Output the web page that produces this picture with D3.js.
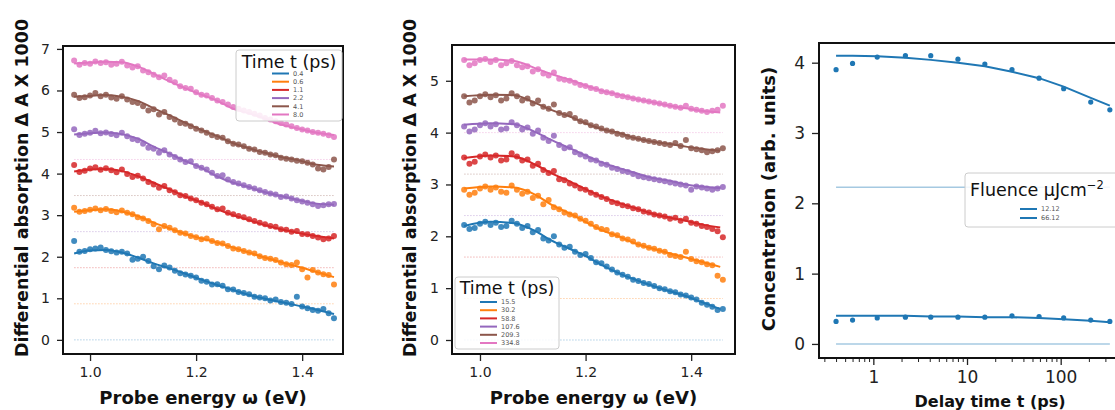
<!DOCTYPE html>
<html>
<head>
<meta charset="utf-8">
<script src="https://cdn.jsdelivr.net/npm/d3@7"></script>
<style>
  body { margin: 0; background: #fff; }
  svg { display: block; font-family: "DejaVu Sans", sans-serif; }
</style>
</head>
<body>
<div id="chart"></div>
<script>
// ---- data ----
const colors = ['#1f77b4', '#ff7f0e', '#d62728', '#9467bd', '#8c564b', '#e377c2'];

const energies = [0.97, 0.98, 0.99, 1.00, 1.01, 1.02, 1.03, 1.04, 1.05, 1.06,
  1.07, 1.08, 1.09, 1.10, 1.11, 1.12, 1.13, 1.14, 1.15, 1.16,
  1.17, 1.18, 1.19, 1.20, 1.21, 1.22, 1.23, 1.24, 1.25, 1.26,
  1.27, 1.28, 1.29, 1.30, 1.31, 1.32, 1.33, 1.34, 1.35, 1.36,
  1.37, 1.38, 1.39, 1.40, 1.41, 1.42, 1.43, 1.44, 1.45, 1.46];

// left panel, early delays
const timesA = ['0.4', '0.6', '1.1', '2.2', '4.1', '8.0'];
const offsetsA = [0, 0.868, 1.736, 2.604, 3.472, 4.34];
const pointsA = [
  [2.38, 2.12, 2.14, 2.18, 2.20, 2.22, 2.16, 2.13, 2.10, 2.12, 2.08, 1.93, 1.95, 2.00, 1.90, 1.77, 1.70, 1.79, 1.74, 1.66, 1.60, 1.57, 1.54, 1.50, 1.42, 1.40, 1.33, 1.34, 1.30, 1.22, 1.21, 1.15, 1.13, 1.10, 1.04, 1.02, 1.00, 0.95, 0.97, 0.91, 0.89, 0.86, 1.04, 0.80, 0.76, 0.72, 0.70, 0.74, 0.64, 0.52],
  [3.18, 3.08, 3.10, 3.13, 3.16, 3.12, 3.15, 3.10, 3.07, 3.11, 3.06, 3.02, 2.95, 2.92, 2.86, 2.78, 2.66, 2.74, 2.70, 2.64, 2.58, 2.56, 2.50, 2.47, 2.42, 2.44, 2.38, 2.33, 2.32, 2.26, 2.20, 2.18, 2.14, 2.10, 2.08, 2.01, 1.97, 1.95, 1.92, 1.86, 1.82, 1.80, 1.86, 1.70, 1.50, 1.68, 1.62, 1.58, 1.56, 1.33],
  [4.21, 4.04, 4.07, 4.12, 4.15, 4.09, 4.13, 4.08, 4.03, 4.10, 3.99, 3.92, 3.95, 3.88, 3.80, 3.74, 3.66, 3.70, 3.60, 3.55, 3.48, 3.46, 3.40, 3.36, 3.30, 3.26, 3.20, 3.14, 3.16, 3.06, 3.02, 2.98, 2.95, 2.90, 2.86, 2.82, 2.78, 2.74, 2.72, 2.66, 2.65, 2.60, 2.62, 2.55, 2.54, 2.50, 2.46, 2.42, 2.44, 2.50],
  [5.07, 4.93, 4.96, 4.98, 5.03, 4.97, 4.99, 4.95, 4.92, 4.98, 4.90, 4.83, 4.80, 4.72, 4.62, 4.60, 4.50, 4.56, 4.46, 4.40, 4.34, 4.28, 4.30, 4.18, 4.14, 4.10, 4.02, 3.94, 3.96, 3.86, 3.80, 3.76, 3.72, 3.68, 3.64, 3.60, 3.56, 3.52, 3.50, 3.44, 3.45, 3.40, 3.36, 3.33, 3.30, 3.26, 3.22, 3.24, 3.26, 3.27],
  [5.90, 5.82, 5.84, 5.88, 5.94, 5.86, 5.90, 5.83, 5.80, 5.86, 5.78, 5.72, 5.70, 5.62, 5.52, 5.55, 5.42, 5.48, 5.36, 5.30, 5.22, 5.20, 5.14, 5.08, 5.04, 4.98, 4.92, 4.88, 4.86, 4.78, 4.72, 4.70, 4.66, 4.60, 4.58, 4.52, 4.50, 4.46, 4.44, 4.38, 4.36, 4.34, 4.31, 4.30, 4.26, 4.22, 4.12, 4.10, 4.16, 4.34],
  [6.72, 6.62, 6.66, 6.64, 6.70, 6.66, 6.68, 6.62, 6.64, 6.69, 6.60, 6.55, 6.58, 6.48, 6.44, 6.38, 6.32, 6.36, 6.26, 6.20, 6.10, 6.06, 6.04, 5.96, 5.90, 5.88, 5.82, 5.76, 5.72, 5.66, 5.60, 5.56, 5.52, 5.48, 5.44, 5.40, 5.34, 5.30, 5.26, 5.22, 5.18, 5.14, 5.10, 5.06, 5.04, 5.00, 4.98, 4.96, 4.92, 4.88]
];
const fitEnergyA = [0.97, 1.00, 1.03, 1.06, 1.09, 1.12, 1.15, 1.18, 1.21, 1.24, 1.27, 1.30, 1.33, 1.36, 1.39, 1.42, 1.46];
const fitsA = [
  [2.08, 2.15, 2.16, 2.10, 1.98, 1.84, 1.72, 1.59, 1.45, 1.32, 1.20, 1.08, 0.99, 0.91, 0.83, 0.75, 0.62],
  [3.08, 3.12, 3.14, 3.09, 2.98, 2.82, 2.68, 2.55, 2.44, 2.34, 2.22, 2.10, 1.98, 1.87, 1.77, 1.66, 1.51],
  [4.05, 4.10, 4.11, 4.06, 3.94, 3.78, 3.62, 3.45, 3.31, 3.14, 3.00, 2.88, 2.76, 2.66, 2.58, 2.51, 2.44],
  [4.94, 4.97, 4.99, 4.95, 4.84, 4.65, 4.48, 4.30, 4.14, 3.93, 3.78, 3.67, 3.55, 3.46, 3.37, 3.29, 3.25],
  [5.85, 5.87, 5.89, 5.85, 5.75, 5.57, 5.40, 5.22, 5.05, 4.90, 4.73, 4.61, 4.50, 4.40, 4.33, 4.23, 4.17],
  [6.65, 6.67, 6.69, 6.68, 6.58, 6.40, 6.22, 6.05, 5.90, 5.75, 5.56, 5.45, 5.32, 5.18, 5.09, 5.00, 4.93]
];

// middle panel, late delays
const timesB = ['15.5', '30.2', '58.8', '107.6', '209.3', '334.8'];
const offsetsB = [0, 0.8, 1.6, 2.4, 3.2, 4.0];
const pointsB = [
  [2.22, 2.14, 2.16, 2.24, 2.28, 2.22, 2.26, 2.18, 2.20, 2.30, 2.24, 2.16, 2.20, 2.08, 2.12, 1.96, 1.92, 2.00, 1.84, 1.78, 1.80, 1.70, 1.64, 1.66, 1.58, 1.50, 1.48, 1.42, 1.36, 1.30, 1.26, 1.22, 1.16, 1.14, 1.10, 1.08, 1.04, 1.00, 0.98, 0.94, 0.92, 0.88, 0.86, 0.82, 0.78, 0.72, 0.68, 0.64, 0.58, 0.60],
  [2.90, 2.80, 2.84, 2.92, 2.96, 2.90, 2.94, 2.86, 2.84, 2.98, 2.90, 2.82, 2.86, 2.74, 2.78, 2.62, 2.70, 2.56, 2.52, 2.46, 2.42, 2.40, 2.34, 2.30, 2.24, 2.18, 2.14, 2.12, 2.04, 2.02, 1.96, 1.94, 1.90, 1.84, 1.82, 1.78, 1.76, 1.72, 1.70, 1.64, 1.62, 1.60, 1.70, 1.56, 1.52, 1.50, 1.46, 1.44, 1.24, 1.16],
  [3.52, 3.40, 3.44, 3.54, 3.58, 3.52, 3.56, 3.46, 3.48, 3.60, 3.54, 3.46, 3.48, 3.36, 3.40, 3.28, 3.22, 3.26, 3.10, 3.08, 3.02, 2.98, 2.92, 2.90, 2.84, 2.80, 2.76, 2.72, 2.66, 2.64, 2.60, 2.58, 2.54, 2.52, 2.48, 2.46, 2.42, 2.40, 2.38, 2.34, 2.36, 2.30, 2.34, 2.26, 2.24, 2.20, 2.18, 2.14, 2.10, 1.98],
  [4.12, 4.02, 4.06, 4.14, 4.18, 4.12, 4.16, 4.06, 4.08, 4.20, 4.14, 4.06, 4.10, 3.98, 4.04, 3.90, 3.84, 3.94, 3.76, 3.70, 3.72, 3.62, 3.58, 3.54, 3.48, 3.46, 3.40, 3.38, 3.32, 3.30, 3.26, 3.24, 3.20, 3.16, 3.14, 3.12, 3.10, 3.08, 3.06, 3.04, 3.02, 3.00, 2.98, 2.90, 2.96, 2.94, 2.92, 2.90, 2.92, 2.95],
  [4.70, 4.58, 4.62, 4.70, 4.74, 4.68, 4.72, 4.62, 4.66, 4.76, 4.70, 4.62, 4.66, 4.56, 4.62, 4.50, 4.46, 4.54, 4.38, 4.34, 4.36, 4.28, 4.22, 4.20, 4.14, 4.12, 4.08, 4.04, 4.02, 3.98, 3.96, 3.92, 3.90, 3.88, 3.86, 3.84, 3.82, 3.80, 3.78, 3.76, 3.80, 3.74, 3.86, 3.70, 3.68, 3.66, 3.62, 3.64, 3.66, 3.70],
  [5.40, 5.30, 5.34, 5.40, 5.42, 5.36, 5.40, 5.30, 5.34, 5.38, 5.30, 5.26, 5.28, 5.18, 5.22, 5.14, 5.10, 5.16, 5.04, 5.02, 5.00, 4.96, 4.92, 4.90, 4.86, 4.84, 4.80, 4.78, 4.76, 4.72, 4.70, 4.68, 4.66, 4.64, 4.62, 4.60, 4.58, 4.56, 4.54, 4.52, 4.50, 4.48, 4.52, 4.46, 4.44, 4.42, 4.40, 4.42, 4.44, 4.52]
];
const fitEnergyB = [0.97, 1.02, 1.065, 1.105, 1.135, 1.17, 1.20, 1.23, 1.265, 1.295, 1.325, 1.36, 1.39, 1.42, 1.455];
const fitsB = [
  [2.20, 2.28, 2.25, 2.10, 1.92, 1.76, 1.62, 1.45, 1.28, 1.16, 1.05, 0.94, 0.85, 0.73, 0.60],
  [2.92, 2.96, 2.94, 2.80, 2.61, 2.44, 2.28, 2.12, 1.99, 1.86, 1.77, 1.67, 1.59, 1.51, 1.41],
  [3.51, 3.56, 3.54, 3.38, 3.22, 3.06, 2.91, 2.77, 2.64, 2.54, 2.44, 2.36, 2.30, 2.23, 2.17],
  [4.15, 4.18, 4.16, 4.01, 3.86, 3.70, 3.56, 3.43, 3.31, 3.22, 3.13, 3.07, 3.00, 2.96, 2.93],
  [4.70, 4.73, 4.72, 4.57, 4.44, 4.31, 4.18, 4.07, 3.99, 3.89, 3.83, 3.78, 3.73, 3.69, 3.65],
  [5.41, 5.41, 5.38, 5.24, 5.13, 5.02, 4.91, 4.81, 4.73, 4.65, 4.59, 4.52, 4.47, 4.42, 4.39]
];

// right panel, concentration vs delay
const delays = [0.4, 0.6, 1.1, 2.2, 4.1, 8.0, 15.5, 30.2, 58.8, 107.6, 209.3, 334.8];
const fluences = ['12.12', '66.12'];
const concPoints = [
  [3.90, 3.99, 4.08, 4.10, 4.10, 4.05, 3.98, 3.90, 3.78, 3.63, 3.44, 3.33],
  [0.32, 0.34, 0.37, 0.38, 0.38, 0.38, 0.38, 0.40, 0.39, 0.37, 0.34, 0.32]
];
const concFits = [
  [4.10, 4.10, 4.09, 4.07, 4.04, 4.00, 3.95, 3.87, 3.78, 3.66, 3.50, 3.39],
  [0.40, 0.40, 0.40, 0.40, 0.39, 0.39, 0.38, 0.38, 0.37, 0.35, 0.33, 0.31]
];
const concGuides = [2.23, 0];
const delayTicks = [1, 10, 100];
const delayMinorTicks = [0.3, 0.4, 0.5, 0.6, 0.7, 0.8, 0.9, 2, 3, 4, 5, 6, 7, 8, 9,
  20, 30, 40, 50, 60, 70, 80, 90, 200, 300];

// ---- drawing ----
const svg = d3.select('#chart').append('svg')
  .attr('width', 1115)
  .attr('height', 410);

function styleAxis(sel, size) {
  sel.select('.domain').remove();
  sel.selectAll('.tick line').attr('stroke', '#222').attr('stroke-width', 1.3);
  sel.selectAll('.tick text')
    .attr('fill', '#222')
    .attr('font-size', size)
    .attr('font-family', '"DejaVu Sans", sans-serif');
}

function drawLegend(g, box, title, labels, cols) {
  g.append('rect')
    .attr('x', box.x).attr('y', box.y)
    .attr('width', box.w).attr('height', box.h)
    .attr('rx', 3)
    .attr('fill', '#fff').attr('fill-opacity', 0.85)
    .attr('stroke', '#ccc').attr('stroke-width', 1);

  const t = g.append('text')
    .attr('x', box.titleX).attr('y', box.titleY)
    .attr('text-anchor', box.titleAnchor)
    .attr('font-size', 17.5)
    .attr('fill', '#111')
    .text(title.main);
  if (title.sup) {
    t.append('tspan').attr('dy', -7).attr('font-size', 11.5).text(title.sup);
  }

  labels.forEach((lab, i) => {
    const yy = box.rowY + i * box.rowStep;
    g.append('line')
      .attr('x1', box.lineX).attr('x2', box.lineX + 17)
      .attr('y1', yy).attr('y2', yy)
      .attr('stroke', cols[i]).attr('stroke-width', 2);
    g.append('text')
      .attr('x', box.lineX + 21).attr('y', yy)
      .attr('dy', '0.35em')
      .attr('font-size', 6.5)
      .attr('fill', '#555')
      .text(lab);
  });
}

function drawSpectra(cfg) {
  const x = d3.scaleLinear().domain(cfg.xDomain).range(cfg.xRange);
  const y = d3.scaleLinear().domain(cfg.yDomain).range(cfg.yRange);
  const g = svg.append('g');

  // dotted zero lines for each shifted spectrum
  g.selectAll('line.base')
    .data(cfg.offsets)
    .join('line')
      .attr('class', 'base')
      .attr('x1', x(energies[0])).attr('x2', x(energies[energies.length - 1]))
      .attr('y1', d => y(d)).attr('y2', d => y(d))
      .attr('stroke', (d, i) => colors[i])
      .attr('stroke-opacity', 0.35)
      .attr('stroke-width', 1)
      .attr('stroke-dasharray', '1.5,1.5');

  cfg.points.forEach((pts, i) => {
    g.append('g').selectAll('circle')
      .data(d3.zip(energies, pts))
      .join('circle')
        .attr('cx', d => x(d[0]))
        .attr('cy', d => y(d[1]))
        .attr('r', 3)
        .attr('fill', colors[i])
        .attr('fill-opacity', 0.85);
  });

  const line = d3.line()
    .x(d => x(d[0]))
    .y(d => y(d[1]))
    .curve(d3.curveMonotoneX);

  cfg.fits.forEach((f, i) => {
    g.append('path')
      .datum(d3.zip(cfg.fitEnergy, f))
      .attr('d', line)
      .attr('fill', 'none')
      .attr('stroke', colors[i])
      .attr('stroke-width', 2);
  });

  const xAxis = g.append('g')
    .attr('transform', `translate(0,${cfg.yRange[0]})`)
    .call(d3.axisBottom(x).tickValues([1.0, 1.2, 1.4]).tickFormat(d3.format('.1f'))
      .tickSize(7).tickPadding(6));
  styleAxis(xAxis, 14);

  const yAxis = g.append('g')
    .attr('transform', `translate(${cfg.xRange[0]},0)`)
    .call(d3.axisLeft(y).tickValues(cfg.yTicks).tickFormat(d3.format('d'))
      .tickSize(6).tickPadding(7));
  styleAxis(yAxis, 14);

  // frame
  g.append('rect')
    .attr('x', cfg.xRange[0]).attr('y', cfg.yRange[1])
    .attr('width', cfg.xRange[1] - cfg.xRange[0])
    .attr('height', cfg.yRange[0] - cfg.yRange[1])
    .attr('fill', 'none').attr('stroke', '#111').attr('stroke-width', 2);

  g.append('text')
    .attr('transform', `translate(${cfg.yLabelX},188) rotate(-90)`)
    .attr('text-anchor', 'middle')
    .attr('dy', '0.35em')
    .attr('font-size', 17.5)
    .attr('font-weight', 'bold')
    .attr('fill', '#111')
    .text('Differential absorption Δ A X 1000');

  g.append('text')
    .attr('x', (cfg.xRange[0] + cfg.xRange[1]) / 2)
    .attr('y', 404)
    .attr('text-anchor', 'middle')
    .attr('font-size', 18)
    .attr('font-weight', 'bold')
    .attr('fill', '#111')
    .text('Probe energy ω (eV)');

  drawLegend(g, cfg.legend, { main: 'Time t (ps)' }, cfg.times, colors);
}

drawSpectra({
  xDomain: [0.949, 1.477], xRange: [63, 343],
  yDomain: [-0.34, 7.07], yRange: [354, 46],
  yTicks: [0, 1, 2, 3, 4, 5, 6, 7],
  offsets: offsetsA, points: pointsA, fits: fitsA, fitEnergy: fitEnergyA,
  times: timesA, yLabelX: 22,
  legend: { x: 236, y: 50, w: 106, h: 71, titleX: 289, titleY: 68, titleAnchor: 'middle',
    rowY: 73.5, rowStep: 8.2, lineX: 272 }
});

drawSpectra({
  xDomain: [0.947, 1.483], xRange: [452, 735],
  yDomain: [-0.27, 5.69], yRange: [354, 45],
  yTicks: [0, 1, 2, 3, 4, 5],
  offsets: offsetsB, points: pointsB, fits: fitsB, fitEnergy: fitEnergyB,
  times: timesB, yLabelX: 410,
  legend: { x: 455, y: 277, w: 104, h: 72, titleX: 507, titleY: 294, titleAnchor: 'middle',
    rowY: 302, rowStep: 8.2, lineX: 480 }
});

// concentration panel (log time axis)
(function () {
  const x = d3.scaleLog().domain([0.263, 380]).range([819, 1115]);
  const y = d3.scaleLinear().domain([-0.2, 4.28]).range([358, 43]);
  const g = svg.append('g');
  const blue = colors[0];

  g.selectAll('line.guide')
    .data(concGuides)
    .join('line')
      .attr('class', 'guide')
      .attr('x1', x(delays[0])).attr('x2', x(delays[delays.length - 1]))
      .attr('y1', d => y(d)).attr('y2', d => y(d))
      .attr('stroke', blue).attr('stroke-opacity', 0.4).attr('stroke-width', 1.5);

  concPoints.forEach(pts => {
    g.append('g').selectAll('circle')
      .data(d3.zip(delays, pts))
      .join('circle')
        .attr('cx', d => x(d[0]))
        .attr('cy', d => y(d[1]))
        .attr('r', 2.6)
        .attr('fill', blue);
  });

  const line = d3.line().x(d => x(d[0])).y(d => y(d[1]));
  concFits.forEach(f => {
    g.append('path')
      .datum(d3.zip(delays, f))
      .attr('d', line)
      .attr('fill', 'none')
      .attr('stroke', blue)
      .attr('stroke-width', 2);
  });

  const minor = g.append('g')
    .attr('transform', 'translate(0,358)')
    .call(d3.axisBottom(x).tickValues(delayMinorTicks).tickFormat('').tickSize(4));
  styleAxis(minor, 0);
  minor.selectAll('.tick line').attr('stroke-width', 1);

  const xAxis = g.append('g')
    .attr('transform', 'translate(0,358)')
    .call(d3.axisBottom(x).tickValues(delayTicks).tickFormat(d3.format('d'))
      .tickSize(7).tickPadding(6));
  styleAxis(xAxis, 17);

  const yAxis = g.append('g')
    .attr('transform', 'translate(819,0)')
    .call(d3.axisLeft(y).tickValues([0, 1, 2, 3, 4]).tickFormat(d3.format('d'))
      .tickSize(7).tickPadding(7));
  styleAxis(yAxis, 17);

  // frame, right edge falls outside the picture
  g.append('rect')
    .attr('x', 819).attr('y', 43)
    .attr('width', 310).attr('height', 315)
    .attr('fill', 'none').attr('stroke', '#111').attr('stroke-width', 2);

  g.append('text')
    .attr('transform', 'translate(769,199) rotate(-90)')
    .attr('text-anchor', 'middle')
    .attr('dy', '0.35em')
    .attr('font-size', 18)
    .attr('font-weight', 'bold')
    .attr('fill', '#111')
    .text('Concentration (arb. units)');

  g.append('text')
    .attr('x', 990).attr('y', 407)
    .attr('text-anchor', 'middle')
    .attr('font-size', 16)
    .attr('font-weight', 'bold')
    .attr('fill', '#111')
    .text('Delay time t (ps)');

  drawLegend(g,
    { x: 965, y: 173, w: 170, h: 54, titleX: 970, titleY: 196, titleAnchor: 'start',
      rowY: 209, rowStep: 9, lineX: 1020 },
    { main: 'Fluence μJcm', sup: '−2' }, fluences, [blue, blue]);
})();
</script>
</body>
</html>
